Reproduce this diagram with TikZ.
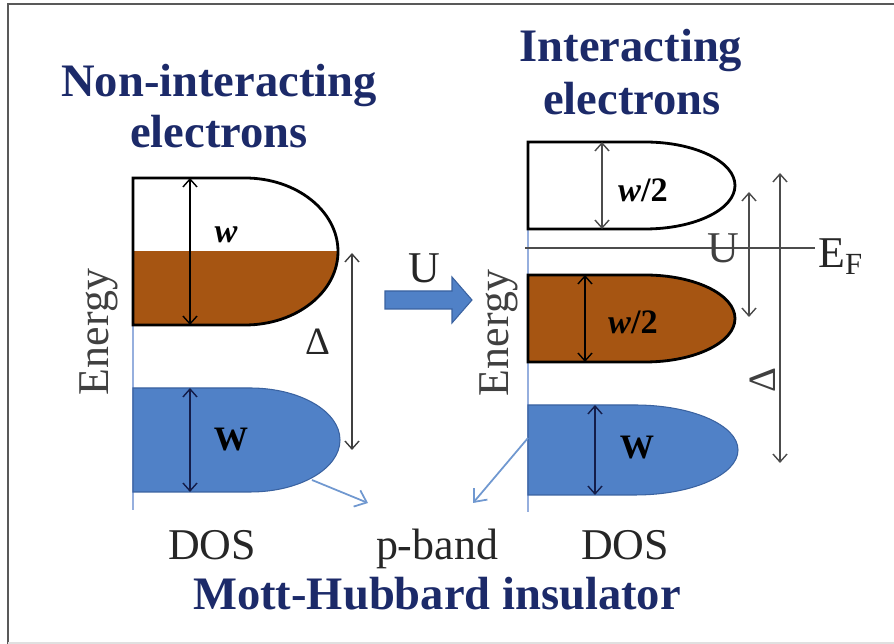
\documentclass[tikz,border=0pt]{standalone}
\usepackage{fontspec}
\setmainfont{Liberation Serif}
\usetikzlibrary{arrows.meta}
\definecolor{titleblue}{RGB}{28,42,105}
\definecolor{bandbrown}{RGB}{166,85,18}
\definecolor{bandblue}{RGB}{80,129,199}
\definecolor{edgeblue}{RGB}{58,98,160}
\definecolor{axisblue}{RGB}{150,175,222}
\definecolor{pblue}{RGB}{112,152,208}

\begin{document}
\begin{tikzpicture}[x=.02cm,y=-.02cm,>={Straight Barb[length=4.5pt,width=8pt]},
    title/.style={font=\fontsize{26.5}{30}\selectfont\bfseries,text=titleblue,anchor=base},
    lbl/.style={font=\fontsize{25}{29}\selectfont,text=black!85},
    small/.style={font=\fontsize{19.5}{22}\selectfont\bfseries},
    dim/.style={<->,line width=.8pt},
    band/.style={line width=1.6pt}]
  \useasboundingbox (0,0) rectangle (894,644);
  \draw[black!65,line width=1pt] (8,644)--(8,4)--(894,4);
  \draw[black!12,line width=1pt] (8,643)--(894,643);
  \node[title] (nl1) at (219,97) {Non-interacting};
  \node[title] (nl2) at (219,148) {electrons};
  \node[title] (il1) at (631,62) {Interacting};
  \node[title] (il2) at (632,115) {electrons};
  \draw[axisblue,line width=1pt] (133,178)--(133,510);
  \draw[axisblue,line width=1pt] (528,142)--(528,512);
  \begin{scope}
    \clip (120,252) rectangle (345,330);
    \fill[bandbrown] (133,178)--(245,178) arc[start angle=-90,end angle=90,x radius=93,y radius=73.5]--(133,325)--cycle;
  \end{scope}
  \draw[band] (133,178)--(245,178) arc[start angle=-90,end angle=90,x radius=93,y radius=73.5]--(133,325)--cycle;
  \draw[fill=bandblue,draw=edgeblue,line width=.6pt] (133,388)--(250,388) arc[start angle=-90,end angle=90,x radius=90,y radius=52]--(133,492)--cycle;
  \draw[band,fill=white] (528,142)--(645,142) arc[start angle=-90,end angle=90,x radius=90,y radius=43.5]--(528,229)--cycle;
  \draw[band,fill=bandbrown] (528,275)--(645,275) arc[start angle=-90,end angle=90,x radius=90,y radius=43.5]--(528,362)--cycle;
  \draw[fill=bandblue,draw=edgeblue,line width=.6pt] (528,405)--(635,405) arc[start angle=-90,end angle=90,x radius=103,y radius=45]--(528,495)--cycle;
  \draw[fill=bandblue,draw=edgeblue,line width=.6pt] (385,291)--(452,291)--(452,277)--(472,300)--(452,323)--(452,309)--(385,309)--cycle;
  \draw[dim] (190,178)--(190,325);
  \draw[dim,titleblue!70!black] (190,388)--(190,492);
  \draw[dim,black!75] (352,253)--(352,450);
  \draw[dim,black!70] (602,142)--(602,229);
  \draw[dim] (585,275)--(585,362);
  \draw[dim,titleblue!70!black] (595,405)--(595,495);
  \draw[black!70,line width=1pt] (525,248)--(815,248);
  \draw[dim,black!70] (749,192)--(749,317);
  \draw[dim,black!70] (780,173)--(780,463);
  \draw[->,pblue,line width=1pt,>={Straight Barb[length=6pt,width=10pt]}] (312,480)--(368,503);
  \draw[->,pblue,line width=1pt,>={Straight Barb[length=6pt,width=10pt]}] (528,438)--(473,503);
  \node[small] (w1) at (226,235) {\textit{w}};
  \node[small] (w2) at (231,440) {W};
  \node[small] (w3) at (643,190) {\textit{w}/2};
  \node[small] (w4) at (633,322) {\textit{w}/2};
  \node[small] (w5) at (637,448) {W};
  \node[font=\fontsize{22}{26}\selectfont,text=black!85] (d1) at (318,342) {Δ};
  \node[font=\fontsize{22}{26}\selectfont,text=black!75,rotate=90] (d2) at (763,380) {Δ};
  \node[lbl] (u1) at (424,268) {U};
  \node[lbl,text=black!75] (u2) at (723,248) {U};
  \node[lbl,anchor=base west,inner sep=0pt] (ef) at (818,268) {E\textsubscript{F}};
  \node[lbl,rotate=90,text=black!75] (en1) at (99,332) {Energy};
  \node[lbl,rotate=90,text=black!75] (en2) at (499,333) {Energy};
  \node[lbl,anchor=base] (dos1) at (212,560) {DOS};
  \node[lbl,anchor=base] (pb) at (437,560) {p-band};
  \node[lbl,anchor=base] (dos2) at (625,560) {DOS};
  \node[title] (mh) at (437,610) {Mott-Hubbard insulator};
\end{tikzpicture}
\end{document}
